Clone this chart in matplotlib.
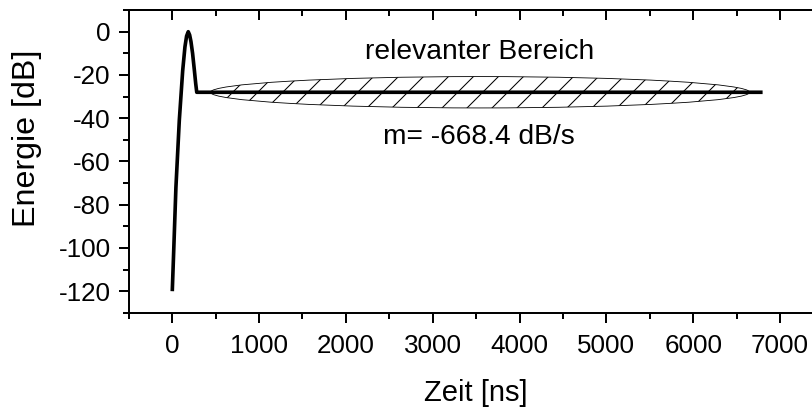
import matplotlib
matplotlib.use("Agg")
import matplotlib.pyplot as plt
from matplotlib.patches import Ellipse
from matplotlib.ticker import MultipleLocator

plt.rcParams['font.family'] = ['Liberation Sans', 'DejaVu Sans']
plt.rcParams['axes.unicode_minus'] = False
plt.rcParams['hatch.linewidth'] = 1.0

# Energieverlauf: Puls (ns, dB)
zeit = [0, 16, 42, 81, 120, 146, 165, 184, 200, 215, 234, 255, 270, 282]
energie = [-120, -102, -72, -41, -18, -7, -2, 0, -1.5, -4.5, -10, -18, -24, -28]

# Abklingbereich mit Steigung m (dB/s)
steigung = -668.4
plateau_ende = 6800

# markierter Bereich (Ellipse)
bereich_mitte = (3545, -28)
bereich_breite = 6210
bereich_hoehe = 14.5

t = zeit + [plateau_ende]
e = energie + [energie[-1] + steigung * (plateau_ende - zeit[-1]) * 1e-9]

dpi = 75
fig = plt.figure(figsize=(812 / dpi, 407 / dpi), dpi=dpi)
ax = fig.add_axes([0.1587, 0.2314, 0.8553, 0.7438])

ell = Ellipse(bereich_mitte, bereich_breite, bereich_hoehe, fill=False,
              hatch='/', edgecolor='black', linewidth=0.8, zorder=2)
ax.add_patch(ell)
ax.plot(t, e, color='black', linewidth=3.5, solid_joinstyle='round',
        solid_capstyle='butt', zorder=3)

ax.text(3545, -9.3, 'relevanter Bereich', ha='center', va='center', fontsize=27)
ax.text(3535, -48.8, 'm= -668.4 dB/s', ha='center', va='center', fontsize=27)

ax.set_xlim(-500, 7500)
ax.set_ylim(-130, 10)
ax.xaxis.set_major_locator(MultipleLocator(1000))
ax.xaxis.set_minor_locator(MultipleLocator(500))
ax.yaxis.set_major_locator(MultipleLocator(20))
ax.yaxis.set_minor_locator(MultipleLocator(10))

for s in ax.spines.values():
    s.set_linewidth(1.9)

ax.tick_params(which='major', direction='out', length=9.6, width=1.9, labelsize=25)
ax.tick_params(which='minor', direction='out', length=5.3, width=1.9)
ax.tick_params(axis='x', which='major', pad=11)
ax.tick_params(axis='y', which='major', pad=8)

top = ax.secondary_xaxis('top')
top.xaxis.set_major_locator(MultipleLocator(1000))
top.xaxis.set_minor_locator(MultipleLocator(500))
top.tick_params(which='major', direction='in', length=9.6, width=1.9, labeltop=False)
top.tick_params(which='minor', direction='in', length=5.3, width=1.9)
top.spines['top'].set_linewidth(1.9)

ax.set_xlabel('Zeit [ns]', fontsize=28, labelpad=20)
ax.set_ylabel('Energie [dB]', fontsize=31)
ax.yaxis.set_label_coords(-0.125, 0.576)

fig.savefig('out.png', dpi=dpi)
